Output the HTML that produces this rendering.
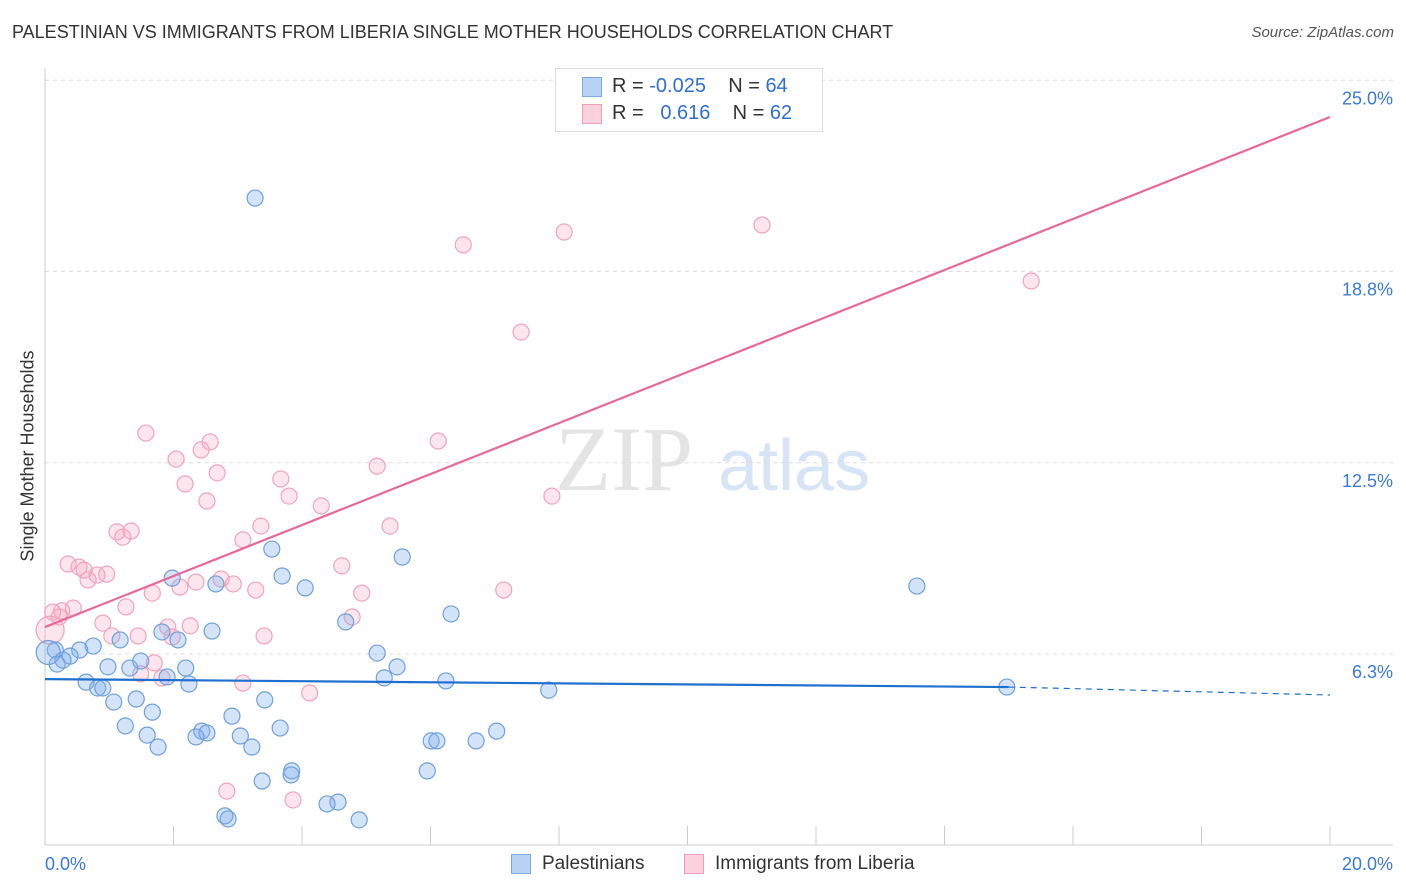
<!DOCTYPE html>
<html><head><meta charset="utf-8"><style>
body{margin:0;background:#fff;font-family:"Liberation Sans",sans-serif;}
#wrap{position:relative;width:1406px;height:892px;overflow:hidden;}
.t{position:absolute;white-space:nowrap;}
</style></head><body>
<div id="wrap">
<div class="t" style="left:12px;top:22px;font-size:18px;color:#333;">PALESTINIAN VS IMMIGRANTS FROM LIBERIA SINGLE MOTHER HOUSEHOLDS CORRELATION CHART</div>
<div class="t" style="right:12px;top:24px;font-size:15px;color:#555;font-style:italic;">Source: ZipAtlas.com</div>
<div class="t" style="left:28px;top:456px;font-size:18px;color:#333;transform:translate(-50%,-50%) rotate(-90deg);">Single Mother Households</div>
<svg id="plot" width="1406" height="892" style="position:absolute;left:0;top:0"></svg>
<div style="position:absolute;left:555px;top:68px;width:266px;height:62px;border:1px solid #ddd;background:#fff;">
 <div style="position:absolute;left:26px;top:8px;width:18px;height:18px;background:#b8d3f5;border:1px solid #7aa8e0;"></div>
 <div class="t" style="left:56px;top:6px;font-size:20px;color:#333;">R = <span style="color:#2f6fd0">-0.025</span>&nbsp;&nbsp;&nbsp; N = <span style="color:#2f6fd0">64</span></div>
 <div style="position:absolute;left:26px;top:35px;width:18px;height:18px;background:#fcd0dc;border:1px solid #f0a0b8;"></div>
 <div class="t" style="left:56px;top:33px;font-size:20px;color:#333;">R = &nbsp;&nbsp;<span style="color:#2f6fd0">0.616</span>&nbsp;&nbsp;&nbsp; N = <span style="color:#2f6fd0">62</span></div>
</div>
<div style="position:absolute;left:511px;top:854px;width:18px;height:18px;background:#b8d3f5;border:1px solid #7aa8e0;"></div>
<div class="t" style="left:542px;top:853px;font-size:19px;color:#333;">Palestinians</div>
<div style="position:absolute;left:684px;top:854px;width:18px;height:18px;background:#fcd0dc;border:1px solid #f0a0b8;"></div>
<div class="t" style="left:715px;top:853px;font-size:19px;color:#333;">Immigrants from Liberia</div>
</div>
<script>
const yTicks=[6.25,12.5,18.75,25];
const yTickLabels=["6.3%","12.5%","18.8%","25.0%"];
const xTickLabels=["0.0%","20.0%"];
const blueX=[3.27,3.53,5.56,1.98,3.69,2.66,4.05,13.57,6.32,4.68,2.60,1.82,2.07,1.17,0.75,0.54,0.16,0.39,0.28,0.19,0.98,1.32,1.49,2.19,5.17,5.48,5.28,1.90,6.24,0.64,0.82,0.90,2.24,1.42,1.07,3.42,7.84,14.97,1.67,2.91,1.25,3.66,2.44,2.52,2.35,1.59,3.04,3.22,1.76,6.01,6.10,6.71,7.03,3.84,3.83,3.38,5.95,4.56,4.39,2.80,2.85,4.89,0.05];
const blueY=[21.15,9.68,9.42,8.73,8.80,8.54,8.41,8.47,7.56,7.30,7.00,6.97,6.71,6.71,6.51,6.38,6.38,6.18,6.05,5.92,5.83,5.79,6.02,5.79,6.28,5.83,5.47,5.50,5.37,5.33,5.14,5.14,5.27,4.78,4.68,4.75,5.07,5.17,4.35,4.22,3.90,3.83,3.73,3.67,3.54,3.60,3.57,3.21,3.21,3.41,3.41,3.41,3.73,2.43,2.30,2.10,2.43,1.41,1.35,0.96,0.86,0.83,6.3];
const pinkX=[11.16,8.08,6.51,15.35,7.41,1.57,2.57,2.43,2.04,5.17,6.12,2.68,2.18,3.67,3.80,2.52,7.89,4.30,3.36,5.37,1.12,1.34,1.21,3.08,4.62,0.36,0.53,0.61,0.81,0.96,0.67,2.35,2.74,2.93,3.28,1.67,2.10,4.93,7.14,1.26,0.44,0.26,0.12,0.22,4.78,0.90,1.91,2.26,1.04,1.45,1.98,3.41,1.70,1.49,1.82,3.08,4.12,2.83,3.86,0.08];
const pinkY=[20.27,20.04,19.62,18.44,16.77,13.47,13.18,12.92,12.62,12.39,13.21,12.17,11.81,11.97,11.41,11.25,11.41,11.09,10.43,10.43,10.24,10.27,10.07,9.98,9.13,9.19,9.09,8.99,8.83,8.86,8.67,8.60,8.70,8.54,8.34,8.24,8.44,8.24,8.34,7.79,7.75,7.66,7.62,7.46,7.46,7.26,7.13,7.17,6.84,6.84,6.81,6.84,5.96,5.60,5.47,5.30,4.98,1.77,1.48,7.03];
const pinkTrendX=[0,20], pinkTrendY=[7.13,23.8];
const blueTrendX=[0,15,20], blueTrendY=[5.43,5.17,4.91];

const X0=45,X1=1330;
function sx(v){return X0+(v/20)*(X1-X0);}
function sy(v){return 654-(v-6.25)*30.6;}
const svg=document.getElementById('plot');
const NS='http://www.w3.org/2000/svg';
function mk(tag,attrs){const e=document.createElementNS(NS,tag);for(const k in attrs)e.setAttribute(k,attrs[k]);svg.appendChild(e);return e;}
// watermark
let wm=mk('text',{x:555,y:490,'font-size':92,fill:'#e4e4e4','font-family':'Liberation Serif, serif'});wm.textContent='ZIP';


let wm2=mk('text',{x:718,y:490,'font-size':72,fill:'#d6e4f5','font-family':'Liberation Sans, sans-serif'});wm2.textContent='atlas';


// gridlines and y labels
yTicks.forEach((t,i)=>{
 const g=mk('line',{x1:X0,x2:1393,y1:sy(t),y2:sy(t),stroke:'#dcdcdc','stroke-dasharray':'4,4'});
 
 
 const l=mk('text',{x:1393,y:sy(t)+24,'text-anchor':'end','font-size':18,fill:'#3a7ad8','font-family':'Liberation Sans, sans-serif'});
 l.textContent=yTickLabels[i];
 
 
});
// axes
let ax=mk('line',{x1:X0,x2:X0,y1:68,y2:845,stroke:'#ccc'});


let bx=mk('line',{x1:X0,x2:1393,y1:845,y2:845,stroke:'#ccc'});


for(let i=1;i<=10;i++){
 const tk=mk('line',{x1:sx(i*2),x2:sx(i*2),y1:826,y2:845,stroke:'#ccc'});
 
 
}
[[0,'start',45],[20,'end',1393]].forEach((a,i)=>{
 const l=mk('text',{x:a[2],y:870,'text-anchor':a[1],'font-size':18,fill:'#3a7ad8','font-family':'Liberation Sans, sans-serif'});
 l.textContent=xTickLabels[i];
 
 
});
// points
pinkX.forEach((v,i)=>{
 const r=i===pinkX.length-1?14:8;
 const c=mk('circle',{cx:sx(v),cy:sy(pinkY[i]),r:r,fill:'rgba(245,170,195,0.3)',stroke:'#f0a4bc','stroke-width':1.2});
 
 
});
blueX.forEach((v,i)=>{
 const r=i===blueX.length-1?12:8;
 const c=mk('circle',{cx:sx(v),cy:sy(blueY[i]),r:r,fill:'rgba(130,175,235,0.35)',stroke:'#6fa0dc','stroke-width':1.2});
 
 
});
// trend lines
let pl=mk('line',{x1:sx(pinkTrendX[0]),y1:sy(pinkTrendY[0]),x2:sx(pinkTrendX[1]),y2:sy(pinkTrendY[1]),stroke:'#e8689a','stroke-width':2.2});


let bl=mk('line',{x1:sx(blueTrendX[0]),y1:sy(blueTrendY[0]),x2:sx(blueTrendX[1]),y2:sy(blueTrendY[1]),stroke:'#1f6fd1','stroke-width':2.2});


let bd=mk('line',{x1:sx(blueTrendX[1]),y1:sy(blueTrendY[1]),x2:sx(blueTrendX[2]),y2:sy(blueTrendY[2]),stroke:'#1f6fd1','stroke-width':1.2,'stroke-dasharray':'6,5'});


</script>
</body></html>
